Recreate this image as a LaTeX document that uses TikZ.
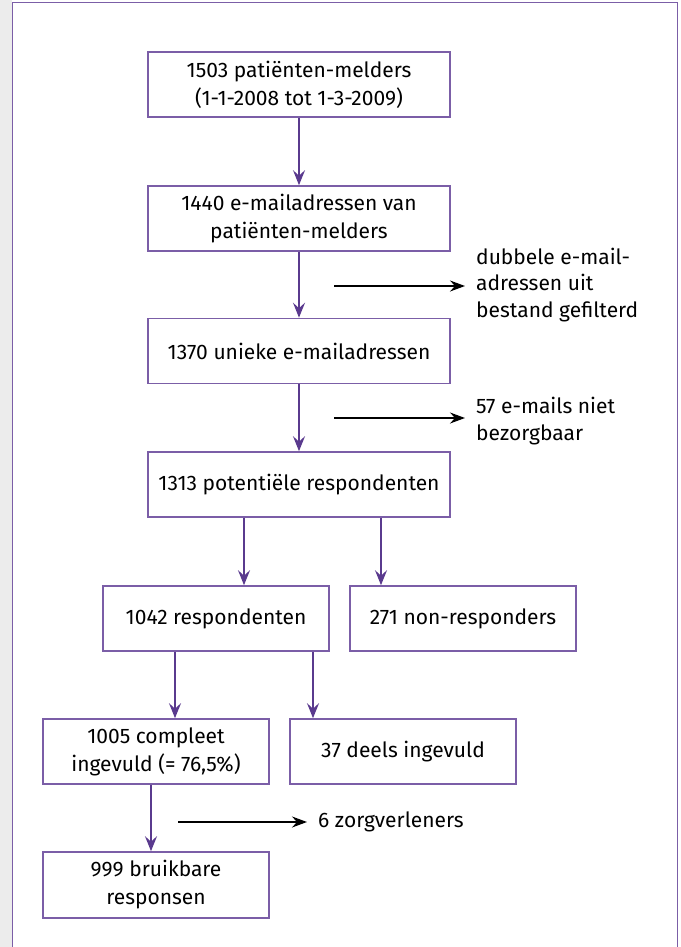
\documentclass[tikz,border=0pt]{standalone}
\usepackage{fontspec}
\setmainfont{Fira Sans}
\usetikzlibrary{arrows.meta}
\definecolor{boxpurple}{HTML}{7B5EA7}
\definecolor{arrpurple}{HTML}{5A3A8E}
\definecolor{sidegray}{HTML}{ECECEC}
\begin{document}
\begin{tikzpicture}[x=1pt,y=-1pt,
  box/.style={draw=boxpurple,line width=1.6pt,fill=white,inner sep=0pt,align=center,
    font=\fontsize{21}{28}\selectfont,text=black},
  flow/.style={draw=arrpurple,line width=1.5pt,-{Stealth[length=15pt,width=12pt,inset=5.5pt]}},
  side/.style={draw=black,line width=1.3pt,-{Stealth[length=15pt,width=11pt,inset=5pt]}},
  note/.style={anchor=west,align=left,inner sep=0pt,font=\fontsize{21}{26.5}\selectfont,text=black}]
\useasboundingbox (0,0) rectangle (680,947);
\fill[white] (0,0) rectangle (680,947);
\fill[sidegray] (0,0) rectangle (12,947);
\draw[boxpurple,line width=1.8pt] (12.5,947) -- (12.5,2.5) -- (677.5,2.5) -- (677.5,947);
% boxes
\node[box,minimum width=302pt,minimum height=65pt] (b1) at (299,84.5) {1503 patiënten-melders\\(1-1-2008 tot 1-3-2009)};
\node[box,minimum width=302pt,minimum height=65pt] (b2) at (299,218.5) {1440 e-mailadressen van\\patiënten-melders};
\node[box,minimum width=302pt,minimum height=65pt] (b3) at (299,351) {1370 unieke e-mailadressen};
\node[box,minimum width=302pt,minimum height=65pt] (b4) at (299,484.5) {1313 potentiële respondenten};
\node[box,minimum width=226pt,minimum height=65pt] (b5) at (216,618.5) {1042 respondenten};
\node[box,minimum width=226pt,minimum height=65pt] (b6) at (463,618.5) {271 non-responders};
\node[box,minimum width=226pt,minimum height=65pt] (b7) at (156,751.5) {1005 compleet\\ingevuld (= 76,5\%)};
\node[box,minimum width=226pt,minimum height=65pt] (b8) at (403,751.5) {37 deels ingevuld};
\node[box,minimum width=226pt,minimum height=66pt] (b9) at (156,885) {999 bruikbare\\responsen};
% vertical flow arrows
\draw[flow] (b1.south) -- (b2.north);
\draw[flow] (b2.south) -- (b3.north);
\draw[flow] (b3.south) -- (b4.north);
\draw[flow] (b4.south -| 244,0) -- (b5.north -| 244,0);
\draw[flow] (b4.south -| 381,0) -- (b6.north -| 381,0);
\draw[flow] (b5.south -| 175,0) -- (b7.north -| 175,0);
\draw[flow] (b5.south -| 313,0) -- (b8.north -| 313,0);
\draw[flow] (b7.south -| 151,0) -- (b9.north -| 151,0);
% side notes
\coordinate (s1) at (334,286);
\node[note] (n1) at (476,285) {dubbele e-mail-\\adressen uit\\bestand gefilterd};
\draw[side] (s1) -- ([xshift=-11pt]n1.west |- s1);
\coordinate (s2) at (334,418);
\node[note] (n2) at (476,421) {57 e-mails niet\\bezorgbaar};
\draw[side] (s2) -- ([xshift=-11pt]n2.west |- s2);
\coordinate (s3) at (178,822);
\node[note] (n3) at (318,822) {6 zorgverleners};
\draw[side] (s3) -- ([xshift=-11pt]n3.west);
\end{tikzpicture}
\end{document}
